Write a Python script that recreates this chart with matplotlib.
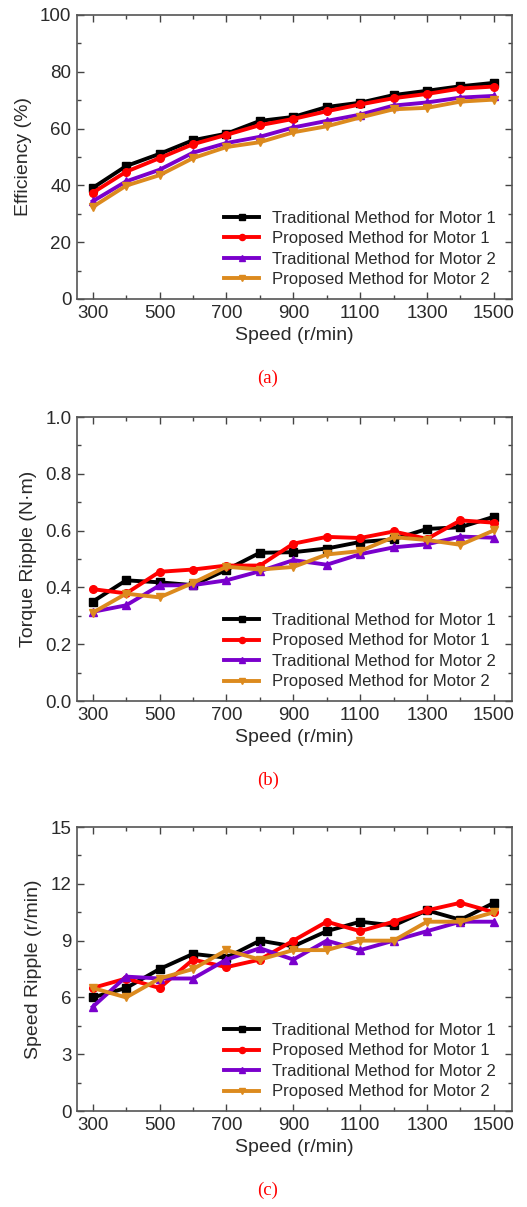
import matplotlib
matplotlib.use('Agg')
import matplotlib.pyplot as plt
from matplotlib.ticker import MultipleLocator, FormatStrFormatter

plt.rcParams['font.family'] = ['Liberation Sans', 'DejaVu Sans']

speed = [300, 400, 500, 600, 700, 800, 900, 1000, 1100, 1200, 1300, 1400, 1500]
labels = ['Traditional Method for Motor 1', 'Proposed Method for Motor 1',
          'Traditional Method for Motor 2', 'Proposed Method for Motor 2']

# Efficiency (%)
eff_trad1 = [39.1, 46.8, 51.1, 55.9, 58.2, 62.7, 64.1, 67.6, 69.1, 71.8, 73.3, 74.9, 76.1]
eff_prop1 = [37.4, 44.8, 49.6, 54.5, 57.8, 61.2, 63.4, 66.1, 68.5, 70.7, 72.2, 74.1, 74.8]
eff_trad2 = [34.4, 41.4, 45.5, 51.5, 54.9, 57.1, 60.4, 62.7, 64.9, 68.1, 69.2, 70.9, 71.5]
eff_prop2 = [32.4, 39.9, 43.6, 49.6, 53.5, 55.2, 58.7, 60.8, 63.9, 66.8, 67.3, 69.5, 70.2]

# Torque ripple (N*m)
tq_trad1 = [0.350, 0.425, 0.418, 0.408, 0.462, 0.522, 0.524, 0.537, 0.560, 0.569, 0.606, 0.612, 0.649]
tq_prop1 = [0.394, 0.379, 0.455, 0.463, 0.477, 0.477, 0.554, 0.578, 0.574, 0.597, 0.571, 0.636, 0.628]
tq_trad2 = [0.314, 0.337, 0.407, 0.408, 0.425, 0.457, 0.496, 0.480, 0.517, 0.541, 0.552, 0.579, 0.575]
tq_prop2 = [0.311, 0.378, 0.365, 0.416, 0.473, 0.463, 0.472, 0.516, 0.528, 0.577, 0.567, 0.550, 0.601]

# Speed ripple (r/min)
sp_trad1 = [6.0, 6.5, 7.5, 8.3, 8.1, 9.0, 8.7, 9.5, 10.0, 9.8, 10.6, 10.1, 11.0]
sp_prop1 = [6.5, 7.0, 6.5, 8.0, 7.6, 8.0, 9.0, 10.0, 9.5, 10.0, 10.6, 11.0, 10.5]
sp_trad2 = [5.5, 7.1, 7.0, 7.0, 8.0, 8.6, 8.0, 9.0, 8.5, 9.0, 9.5, 10.0, 10.0]
sp_prop2 = [6.5, 6.0, 7.0, 7.5, 8.5, 8.0, 8.5, 8.5, 9.0, 9.0, 10.0, 10.0, 10.5]

colors = ['#000000', '#ff0000', '#7a00cc', '#dc8a1e']
markers = ['s', 'o', '^', 'v']
text_col = '#2a2a2a'

fig = plt.figure(figsize=(5.27, 12.07), dpi=100)
fig.patch.set_facecolor('white')

panels = [
    (0.7523, [eff_trad1, eff_prop1, eff_trad2, eff_prop2], 'Efficiency (%)', (0, 100), 20, 10, '%d', '(a)'),
    (0.4192, [tq_trad1, tq_prop1, tq_trad2, tq_prop2], 'Torque Ripple (N\u00b7m)', (0, 1.0), 0.2, 0.1, '%.1f', '(b)'),
    (0.0795, [sp_trad1, sp_prop1, sp_trad2, sp_prop2], 'Speed Ripple (r/min)', (0, 15), 3, 1.5, '%d', '(c)'),
]

for bottom, series, ylabel, ylim, ymaj, ymin, yfmt, cap in panels:
    ax = fig.add_axes([0.1461, bottom, 0.8254, 0.2353])
    for vals, c, m, lab in zip(series, colors, markers, labels):
        ax.plot(speed, vals, color=c, marker=m, markersize=5.5, linewidth=2.8, label=lab)
    ax.set_xlim(253, 1554)
    ax.set_ylim(*ylim)
    ax.set_xticks([300, 500, 700, 900, 1100, 1300, 1500])
    ax.xaxis.set_minor_locator(MultipleLocator(100))
    ax.yaxis.set_major_locator(MultipleLocator(ymaj))
    ax.yaxis.set_minor_locator(MultipleLocator(ymin))
    ax.yaxis.set_major_formatter(FormatStrFormatter(yfmt))
    ax.tick_params(which='both', direction='in', top=True, right=True, colors='#444444',
                   labelcolor=text_col, labelsize=13.5, width=1)
    ax.tick_params(which='major', length=5, pad=4)
    ax.tick_params(which='minor', length=3)
    for sp in ax.spines.values():
        sp.set_color('#555555')
        sp.set_linewidth(1.2)
    ax.set_xlabel('Speed (r/min)', fontsize=14, color=text_col, labelpad=4)
    ax.set_ylabel(ylabel, fontsize=14, color=text_col, labelpad=6)
    leg = ax.legend(loc='lower right', frameon=False, fontsize=12, handlelength=2.1,
                    handletextpad=0.75, labelspacing=0.33, borderaxespad=0.3,
                    bbox_to_anchor=(0.989, 0.0), markerscale=0.8)
    for t in leg.get_texts():
        t.set_color(text_col)
    fig.text(0.508, bottom - 0.066, cap, color='red', fontsize=13.5,
             family=['Liberation Serif', 'DejaVu Serif'], ha='center', va='center')

fig.savefig('out.png', dpi=100, facecolor='white')
